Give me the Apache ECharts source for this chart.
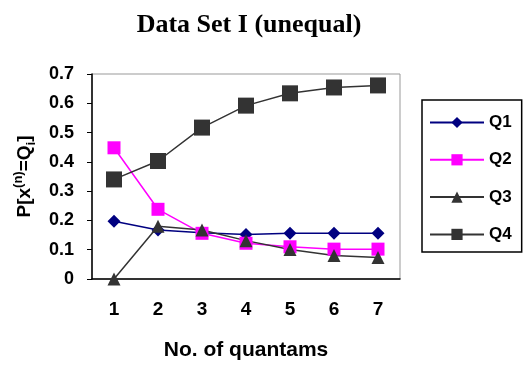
<!DOCTYPE html>
<html>
<head>
<meta charset="utf-8">
<script src="https://cdn.jsdelivr.net/npm/echarts@6/dist/echarts.min.js"></script>
<style>
  html, body { margin: 0; padding: 0; background: #fff; }
  #main { width: 523px; height: 369px; }
</style>
</head>
<body>
<div id="main"></div>
<script>
var categories = ['1', '2', '3', '4', '5', '6', '7'];
var q1 = [0.197, 0.167, 0.158, 0.152, 0.156, 0.156, 0.156];
var q2 = [0.448, 0.238, 0.156, 0.122, 0.110, 0.102, 0.102];
var q3 = [0, 0.18, 0.167, 0.131, 0.101, 0.080, 0.073];
var q4 = [0.340, 0.403, 0.517, 0.592, 0.634, 0.654, 0.661];

var font = 'Liberation Sans, Arial, sans-serif';
var myChart = echarts.init(document.getElementById('main'));

function line(name, data, color, symbol, size) {
  return {
    name: name,
    type: 'line',
    data: data,
    symbol: symbol,
    symbolSize: size,
    showAllSymbol: true,
    lineStyle: { color: color, width: 1.5 },
    itemStyle: { color: color },
    animation: false
  };
}

var option = {
  title: {
    text: 'Data Set I (unequal)',
    left: 244,
    textAlign: 'center',
    top: 7,
    textStyle: { fontFamily: 'Liberation Serif, Times New Roman, serif', fontWeight: 'bold', fontSize: 26, color: '#000' }
  },
  legend: {
    orient: 'vertical',
    left: 422,
    top: 100,
    padding: [14, 10, 9, 7],
    itemWidth: 54,
    itemHeight: 14,
    itemGap: 20.3,
    borderColor: '#000',
    borderWidth: 1.5,
    textStyle: { fontFamily: font, fontWeight: 'bold', fontSize: 17, color: '#000' },
    data: ['Q1', 'Q2', 'Q3', 'Q4']
  },
  grid: {
    left: 92, right: 123, top: 74, bottom: 90,
    show: true, borderColor: '#999', borderWidth: 1
  },
  xAxis: {
    type: 'category',
    data: categories,
    boundaryGap: true,
    name: 'No. of quantams',
    nameLocation: 'middle',
    nameGap: 61,
    nameTextStyle: { fontFamily: font, fontWeight: 'bold', fontSize: 21, color: '#000' },
    axisLine: { lineStyle: { color: '#000', width: 1.5 } },
    axisTick: { length: 5, lineStyle: { color: '#000' } },
    axisLabel: { margin: 21, fontFamily: font, fontWeight: 'bold', fontSize: 19, color: '#000' }
  },
  yAxis: {
    type: 'value',
    min: 0, max: 0.7, interval: 0.1,
    name: '{a|P[x}{sup|(n)}{a|=Q}{sub|i}{a|]}',
    nameLocation: 'middle',
    nameGap: 54,
    nameTextStyle: {
      rich: {
        a: { fontFamily: font, fontWeight: 'bold', fontSize: 19, color: '#000', lineHeight: 26 },
        sup: { fontFamily: font, fontWeight: 'bold', fontSize: 13, color: '#000', verticalAlign: 'top', lineHeight: 26 },
        sub: { fontFamily: font, fontWeight: 'bold', fontSize: 13, color: '#000', verticalAlign: 'bottom', lineHeight: 26 }
      }
    },
    splitLine: { show: false },
    axisLine: { show: true, lineStyle: { color: '#000', width: 1.5 } },
    axisTick: { show: true, length: 5, lineStyle: { color: '#000' } },
    axisLabel: { margin: 18, fontFamily: font, fontWeight: 'bold', fontSize: 18, color: '#000' }
  },
  series: [
    line('Q1', q1, '#000080', 'diamond', 13),
    line('Q2', q2, '#ff00ff', 'rect', 13),
    line('Q3', q3, '#333333', 'triangle', 13),
    line('Q4', q4, '#333333', 'rect', 16)
  ]
};

myChart.setOption(option);
</script>
</body>
</html>
